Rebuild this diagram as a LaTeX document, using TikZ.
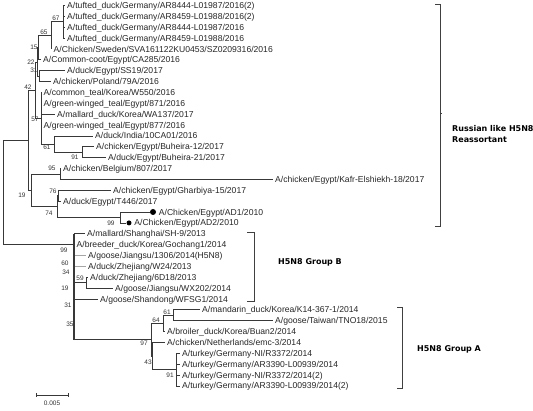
\documentclass[tikz,border=0pt]{standalone}
\usepackage{fontspec}
\setmainfont{Liberation Sans}
\newfontfamily\grpfont{DejaVu Sans}
\begin{document}
\begin{tikzpicture}[x=1pt,y=-1pt,
  leaf/.style={anchor=west, inner xsep=2.5pt, inner ysep=0pt, text height=6.2pt, text depth=0pt,
    font=\fontsize{8.6}{10}\selectfont, text=black!85},
  bs/.style={font=\fontsize{6.5}{7}\selectfont, inner sep=0pt, text=black!80},
  br/.style={draw=black!78, line width=0.6pt},
  faint/.style={draw=black!35, line width=0.6pt},
  dot/.style={circle, fill=black, inner sep=0pt},
  grp/.style={anchor=west, inner sep=0pt, font=\grpfont\bfseries\fontsize{8}{9}\selectfont},
  brk/.style={draw=black!75, line width=0.7pt}]
\useasboundingbox (0,0) rectangle (533,411);

% ---------- internal nodes ----------
\coordinate (root) at (3,192.4);
\coordinate (R) at (28,140.2);
\coordinate (n42) at (35,90.1);
\coordinate (n22) at (37,61.9);
\coordinate (n15) at (38,47.6);
\coordinate (n65) at (51,35.4);
\coordinate (n67) at (63,21.8);
\coordinate (n31) at (39,76.15);
\coordinate (n57) at (41,118.3);
\coordinate (n61) at (54,144.05);
\coordinate (n91) at (82,152.2);
\coordinate (n19) at (31,190.3);
\coordinate (n95) at (60,173.95);
\coordinate (n74) at (57,206.6);
\coordinate (n76) at (58.5,195.7);
\coordinate (n99) at (120,217.45);
\coordinate (ba) at (74,244.6);
\coordinate (n59) at (86,282.65);
\coordinate (n97) at (151,339.7);
\coordinate (n64) at (163,323.4);
\coordinate (n61a) at (173,315.25);
\coordinate (n43) at (152.5,356);
\coordinate (n91a) at (176,369.6);

% ---------- leaves ----------
\node[leaf] (t1) at (64.5,5.5) {A/tufted\_duck/Germany/AR8444-L01987/2016(2)};
\node[leaf] (t2) at (64.5,16.4) {A/tufted\_duck/Germany/AR8459-L01988/2016(2)};
\node[leaf] (t3) at (64.5,27.2) {A/tufted\_duck/Germany/AR8444-L01987/2016};
\node[leaf] (t4) at (64.5,38.1) {A/tufted\_duck/Germany/AR8459-L01988/2016};
\node[leaf] (t5) at (51,49) {A/Chicken/Sweden/SVA161122KU0453/SZ0209316/2016};
\node[leaf] (t6) at (40.5,59.8) {A/Common-coot/Egypt/CA285/2016};
\node[leaf] (t7) at (64.5,70.7) {A/duck/Egypt/SS19/2017};
\node[leaf] (t8) at (50.5,81.6) {A/chicken/Poland/79A/2016};
\node[leaf] (t9) at (41,92.5) {A/common\_teal/Korea/W550/2016};
\node[leaf] (t10) at (41,103.3) {A/green-winged\_teal/Egypt/871/2016};
\node[leaf] (t11) at (54.5,114.2) {A/mallard\_duck/Korea/WA137/2017};
\node[leaf] (t12) at (41,125) {A/green-winged\_teal/Egypt/877/2016};
\node[leaf] (t13) at (92.5,135.9) {A/duck/India/10CA01/2016};
\node[leaf] (t14) at (93.5,146.8) {A/chicken/Egypt/Buheira-12/2017};
\node[leaf] (t15) at (105.5,157.6) {A/duck/Egypt/Buheira-21/2017};
\node[leaf] (t16) at (60.5,168.5) {A/chicken/Belgium/807/2017};
\node[leaf] (t17) at (272.5,179.4) {A/chicken/Egypt/Kafr-Elshiekh-18/2017};
\node[leaf] (t18) at (110.5,190.3) {A/chicken/Egypt/Gharbiya-15/2017};
\node[leaf] (t19) at (60.5,201.1) {A/duck/Egypt/T446/2017};
\node[dot, minimum size=6pt] (d20) at (153,212) {};
\node[leaf] (t20) at (d20.east) {A/Chicken/Egypt/AD1/2010};
\node[dot, minimum size=5pt] (d21) at (129,222.9) {};
\node[leaf] (t21) at (d21.east) {A/Chicken/Egypt/AD2/2010};
\node[leaf] (t22) at (84.5,233.7) {A/mallard/Shanghai/SH-9/2013};
\node[leaf] (t23) at (74,244.6) {A/breeder\_duck/Korea/Gochang1/2014};
\node[leaf] (t24) at (85.5,255.5) {A/goose/Jiangsu/1306/2014(H5N8)};
\node[leaf] (t25) at (85.5,266.3) {A/duck/Zhejiang/W24/2013};
\node[leaf] (t26) at (87.5,277.2) {A/duck/Zhejiang/6D18/2013};
\node[leaf] (t27) at (112.5,288.1) {A/goose/Jiangsu/WX202/2014};
\node[leaf] (t28) at (97.5,299) {A/goose/Shandong/WFSG1/2014};
\node[leaf] (t29) at (199.5,309.8) {A/mandarin\_duck/Korea/K14-367-1/2014};
\node[leaf] (t30) at (272.5,320.7) {A/goose/Taiwan/TNO18/2015};
\node[leaf] (t31) at (164.5,331.6) {A/broiler\_duck/Korea/Buan2/2014};
\node[leaf] (t32) at (164.5,342.4) {A/chicken/Netherlands/emc-3/2014};
\node[leaf] (t33) at (179.5,353.3) {A/turkey/Germany-NI/R3372/2014};
\node[leaf] (t34) at (179.5,364.2) {A/turkey/Germany/AR3390-L00939/2014};
\node[leaf] (t35) at (179.5,375) {A/turkey/Germany-NI/R3372/2014(2)};
\node[leaf] (t36) at (179.5,385.9) {A/turkey/Germany/AR3390-L00939/2014(2)};

% ---------- branches ----------
\draw[br] (root) |- (R);
\draw[br] (root) |- (ba);
\draw[br] (R) |- (n42);
\draw[br] (R) |- (n19);
\draw[br] (n42) |- (n22);
\draw[br] (n42) |- (n57);
\draw[br] (n22) |- (n15);
\draw[br] (n22) |- (n31);
\draw[br] (n15) |- (n65);
\draw[br] (n15) |- (t6.west);
\draw[br] (n65) |- (n67);
\draw[br] (n65) |- (t5.west);
\foreach \t in {t1,t2,t3,t4} \draw[br] (n67) |- (\t.west);
\draw[br] (n31) |- (t7.west);
\draw[br] (n31) |- (t8.west);
\foreach \t in {t9,t10,t11,t12} \draw[br] (n57) |- (\t.west);
\draw[br] (n57) |- (n61);
\draw[br] (n61) |- (t13.west);
\draw[br] (n61) |- (n91);
\draw[br] (n91) |- (t14.west);
\draw[br] (n91) |- (t15.west);
\draw[br] (n19) |- (n95);
\draw[br] (n19) |- (n74);
\draw[br] (n95) |- (t16.west);
\draw[br] (n95) |- (t17.west);
\draw[br] (n74) |- (n76);
\draw[br] (n74) |- (n99);
\draw[br] (n76) |- (t18.west);
\draw[br] (n76) |- (t19.west);
\draw[br] (n99) |- (d20.west);
\draw[br] (n99) |- (d21.west);
% group B / A
\draw[br] (ba) |- (t22.west);
\draw[br] (ba) |- (t23.west);
\draw[faint] (ba) |- (t24.west);
\draw[faint] (ba) |- (t25.west);
\draw[br] (ba) |- (n59);
\draw[br] (n59) |- (t26.west);
\draw[br] (n59) |- (t27.west);
\draw[br] (ba) |- (t28.west);
\draw[br] (ba) |- (n97);
\draw[draw=black!78, line width=1.4pt] (t22.west -| ba) -- (n97 -| ba);
\draw[br] (n97) |- (n64);
\draw[br] (n97) |- (n43);
\draw[br] (n64) |- (n61a);
\draw[br] (n64) |- (t31.west);
\draw[br] (n61a) |- (t29.west);
\draw[br] (n61a) |- (t30.west);
\draw[br] (n43) |- (t32.west);
\draw[br] (n43) |- (n91a);
\foreach \t in {t33,t34,t35,t36} \draw[br] (n91a) |- (\t.west);

% ---------- bootstrap values ----------
\node[bs] (b67) at (56,18) {67};
\node[bs] (b65) at (44,32) {65};
\node[bs] (b15) at (34,47) {15};
\node[bs] (b22) at (31,62) {22};
\node[bs] (b31) at (34,70) {31};
\node[bs] (b42) at (28,87) {42};
\node[bs] (b57) at (35,119) {57};
\node[bs] (b61) at (47,147) {61};
\node[bs] (b91) at (75,157) {91};
\node[bs] (b95) at (52,168) {95};
\node[bs] (b76) at (53,191) {76};
\node[bs] (b19) at (22,195) {19};
\node[bs] (b74) at (49,213) {74};
\node[bs] (b99) at (111,223) {99};
\node[bs] (c99) at (64,250) {99};
\node[bs] (c60) at (65,263) {60};
\node[bs] (c34) at (66,272) {34};
\node[bs] (c59) at (80,278) {59};
\node[bs] (c19) at (65,288) {19};
\node[bs] (c31) at (68,305) {31};
\node[bs] (c35) at (70,324) {35};
\node[bs] (a61) at (167,312) {61};
\node[bs] (a64) at (156,320) {64};
\node[bs] (a97) at (144,343) {97};
\node[bs] (a43) at (148,362) {43};
\node[bs] (a91) at (170,375) {91};

% ---------- group brackets ----------
\draw[brk] (435,4) -- (440,4) -- (440,226) -- (435,226);
\draw[brk] (440,113) -- (442,113);
\draw[brk] (247,232) -- (254,232) -- (254,301) -- (247,301);
\draw[brk] (397,307) -- (402,307) -- (402,388) -- (397,388);
\node[grp] (gr1) at (452,129) {Russian like H5N8};
\node[grp] (gr2) at (452,139.5) {Reassortant};
\node[grp] (grB) at (278,262) {H5N8 Group B};
\node[grp] (grA) at (417,349) {H5N8 Group A};

% ---------- scale bar ----------
\coordinate (s1) at (36,395);
\coordinate (s2) at (68,395);
\draw[br] (s1) -- (s2);
\draw[br] ([yshift=-2pt]s1) -- ([yshift=2pt]s1);
\draw[br] ([yshift=-2pt]s2) -- ([yshift=2pt]s2);
\node[bs] (sc) at (52,403) {0.005};
\end{tikzpicture}
\end{document}
